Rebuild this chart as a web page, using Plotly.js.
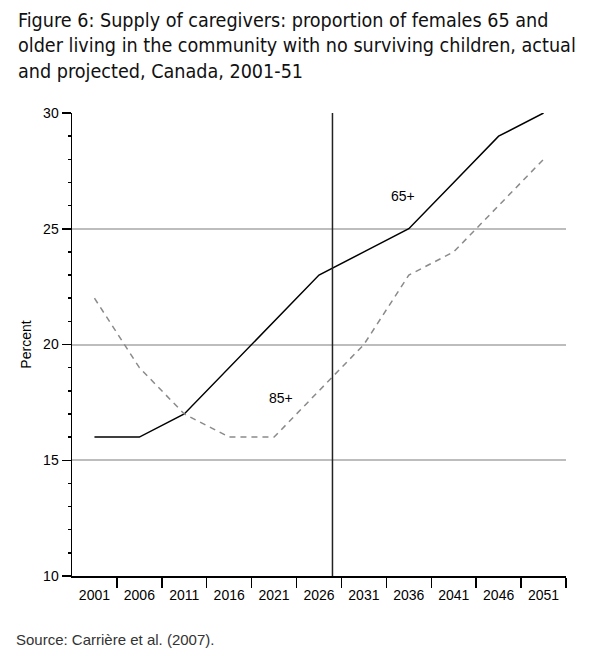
<!DOCTYPE html>
<html>
<head>
<meta charset="utf-8">
<script src="https://cdn.plot.ly/plotly-3.0.1.min.js"></script>
<style>html,body{margin:0;padding:0;background:#fff;}#chart{width:600px;height:656px;}</style>
</head>
<body>
<div id="chart"></div>
<script>
const years = ["2001","2006","2011","2016","2021","2026","2031","2036","2041","2046","2051"];
const age65 = [16,16,17,19,21,23,24,25,27,29,30];
const age85 = [22,19,17,16,16,18,20,23,24,26,28];
const seriesLabels = ["65+","85+"];
const labelX = [6.86, 4.15];
const labelY = [26.4, 17.7];
const projectionStart = 5.3;
const yTicks = [10,15,20,25,30];

const fontMain = "Liberation Sans, Arial, Helvetica, sans-serif";
const fontTitle = "DejaVu Sans Condensed, Liberation Sans Narrow, Arial Narrow, sans-serif";

const W = 600, H = 656, ML = 72, MR = 33.5, MT = 113, MB = 80;
const PW = W - ML - MR, PH = H - MT - MB;

const traces = [
  {x: years, y: age65, type: "scatter", mode: "lines", name: "65+",
   line: {color: "#000", width: 1.5}, hoverinfo: "skip"},
  {x: years, y: age85, type: "scatter", mode: "lines", name: "85+",
   line: {color: "#8a8a8a", width: 1.5, dash: "6px,5px"}, hoverinfo: "skip"}
];

const layout = {
  width: W, height: H,
  margin: {l: ML, r: MR, t: MT, b: MB},
  paper_bgcolor: "#fff", plot_bgcolor: "#fff",
  showlegend: false,
  font: {family: fontMain, size: 14, color: "#000"},
  xaxis: {
    type: "category", categoryorder: "array", categoryarray: years,
    tickson: "boundaries", ticks: "outside", ticklen: 10, tickwidth: 1.5, tickcolor: "#000",
    ticklabelstandoff: 6,
    showline: true, linecolor: "#000", linewidth: 1.5,
    showgrid: false, zeroline: false,
    tickfont: {size: 14, color: "#000"},
    range: [-0.5, 10.5], fixedrange: true
  },
  yaxis: {
    range: [10, 30], tickvals: yTicks, ticktext: yTicks.map(String),
    ticks: "outside", ticklen: 9, tickwidth: 1.5, tickcolor: "#000",
    minor: {dtick: 1, ticks: "outside", ticklen: 3, tickwidth: 1.5, tickcolor: "#000", showgrid: false},
    showline: true, linecolor: "#000", linewidth: 1.5,
    showgrid: true, gridcolor: "#bdbdbd", gridwidth: 2, zeroline: false,
    tickfont: {size: 14, color: "#000"},
    title: {text: "Percent", font: {size: 14, color: "#000"}, standoff: 8},
    fixedrange: true
  },
  shapes: [
    {type: "line", xref: "x", yref: "paper", x0: projectionStart, x1: projectionStart, y0: 0, y1: 1,
     line: {color: "#222", width: 1.5}},
    {type: "rect", xref: "paper", yref: "paper", layer: "above",
     x0: -3 / PW, x1: 2 / PW, y0: -2 / PH, y1: -14 / PH,
     fillcolor: "#fff", line: {width: 0}}
  ],
  annotations: seriesLabels.map((t, i) => ({
    text: t, xref: "x", yref: "y", x: labelX[i], y: labelY[i],
    showarrow: false, font: {size: 14, color: "#000"}
  })).concat([
    {text: "Figure 6: Supply of caregivers: proportion of females 65 and<br>older living in the community with no surviving children, actual<br>and projected, Canada, 2001-51",
     xref: "paper", yref: "paper", x: (16 - ML) / PW, y: 1 + (MT - 7) / PH,
     xanchor: "left", yanchor: "top", align: "left", showarrow: false,
     font: {family: fontTitle, size: 19.6, color: "#111"}},
    {text: "Source: Carrière et al. (2007).", xref: "paper", yref: "paper",
     x: (14 - ML) / PW, y: -(639 - (H - MB)) / PH, xanchor: "left", yanchor: "middle", showarrow: false,
     font: {size: 15, color: "#333"}}
  ])
};

Plotly.newPlot("chart", traces, layout, {displayModeBar: false, staticPlot: true});
</script>
</body>
</html>
